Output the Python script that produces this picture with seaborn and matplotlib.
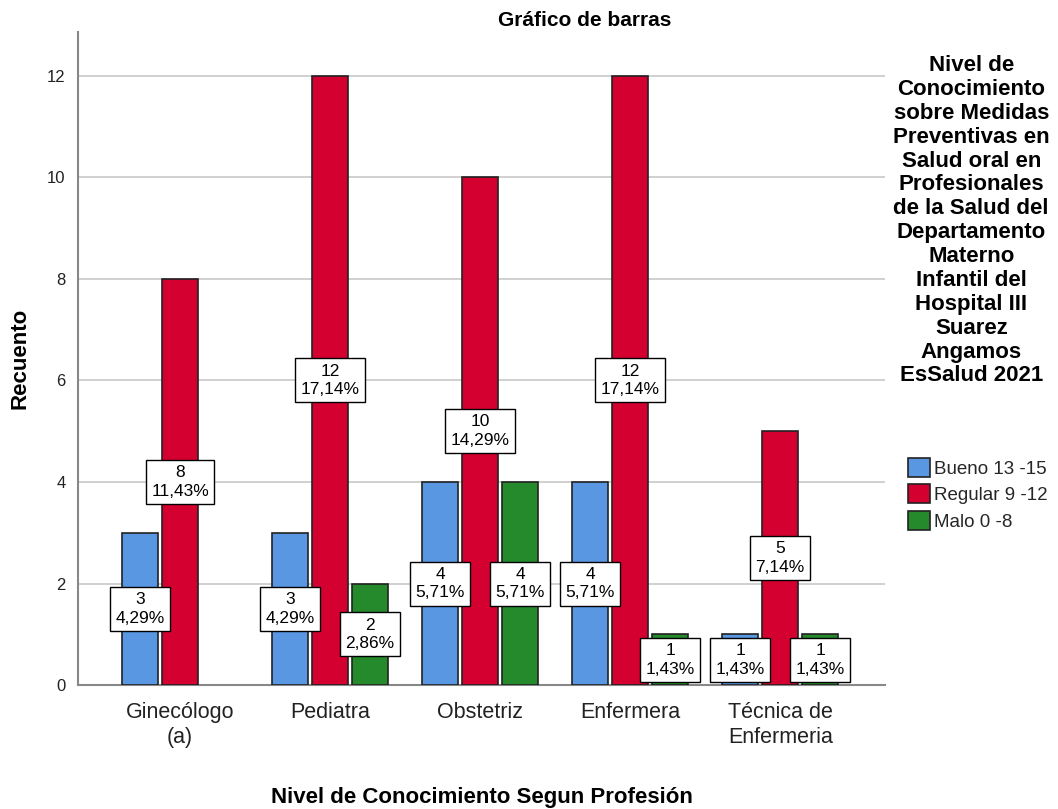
import pandas as pd
import numpy as np
import seaborn as sns
import matplotlib.pyplot as plt
from matplotlib.patches import Patch

# profesiones y niveles de conocimiento
profesiones = ["Ginecólogo\n(a)", "Pediatra", "Obstetriz", "Enfermera", "Técnica de\nEnfermeria"]
niveles = ["Bueno 13 -15", "Regular 9 -12", "Malo 0 -8"]
bueno = [3, 3, 4, 4, 1]
regular = [8, 12, 10, 12, 5]
malo = [0, 2, 4, 1, 1]
colores = ["#5A97E3", "#D4002F", "#248A2B"]

rows = []
for i, p in enumerate(profesiones):
    rows.append((p, niveles[0], bueno[i]))
    rows.append((p, niveles[1], regular[i]))
    rows.append((p, niveles[2], malo[i]))
df = pd.DataFrame(rows, columns=["profesion", "nivel", "recuento"])
total = df["recuento"].sum()

sns.set_style("white")
plt.rcParams["font.family"] = ["Liberation Sans", "DejaVu Sans"]

fig = plt.figure(figsize=(10.58, 8.09), dpi=100)
ax = fig.add_axes([0.0737, 0.153, 0.763, 0.807])

sns.barplot(data=df, x="profesion", y="recuento", hue="nivel", order=profesiones,
            hue_order=niveles, palette=colores, saturation=1, width=0.8, gap=0.1,
            edgecolor="#222222", linewidth=1.2, ax=ax, legend=False, zorder=3)

# etiquetas de recuento y porcentaje en la mitad de cada barra
for cont in ax.containers:
    for bar in cont:
        h = bar.get_height()
        if h <= 0:
            bar.set_visible(False)
            continue
        pct = f"{h / total * 100:.2f}".replace(".", ",")
        ax.text(bar.get_x() + bar.get_width() / 2, h / 2, f"{int(h)}\n{pct}%",
                ha="center", va="center", fontsize=12.5, linespacing=1.3, zorder=5,
                color="black",
                bbox=dict(boxstyle="square,pad=0.3", fc="white", ec="black", lw=1))

ax.set_ylim(0, 12.85)
ax.set_xlim(-0.68, 4.7)
ax.set_yticks([0, 2, 4, 6, 8, 10, 12])
ax.yaxis.grid(True, color="#C8C8C8", lw=1.2, zorder=0)
ax.set_axisbelow(True)
for s in ["top", "right"]:
    ax.spines[s].set_visible(False)
for s in ["left", "bottom"]:
    ax.spines[s].set_color("#888888")
    ax.spines[s].set_linewidth(1.5)
ax.tick_params(axis="y", labelsize=12, colors="#222222", length=0, pad=9)
ax.tick_params(axis="x", labelsize=15.5, colors="#222222", length=0, pad=12)
for t in ax.get_xticklabels():
    t.set_linespacing(1.25)
ax.set_xlabel("Nivel de Conocimiento Segun Profesión", fontsize=16, fontweight="bold",
              color="black", labelpad=28)
ax.set_ylabel("Recuento", fontsize=16, fontweight="bold", color="black", labelpad=12)

fig.text(0.553, 0.975, "Gráfico de barras", ha="center", va="center", fontsize=15,
         fontweight="bold", color="black")

titulo = ("Nivel de\nConocimiento\nsobre Medidas\nPreventivas en\nSalud oral en\n"
          "Profesionales\nde la Salud del\nDepartamento\nMaterno\nInfantil del\n"
          "Hospital III\nSuarez\nAngamos\nEsSalud 2021")
fig.text(0.918, 0.932, titulo, ha="center", va="top", fontsize=16, fontweight="bold",
         color="black", linespacing=1.18)

handles = [Patch(fc=c, ec="#222222", lw=1.2) for c in colores]
fig.legend(handles, niveles, loc="upper left", bbox_to_anchor=(0.842, 0.455),
           frameon=False, handlelength=1.2, handleheight=1.2,
           handletextpad=0.2, labelspacing=0.35, prop={"size": 13.5})

fig.savefig("out.png", dpi=100)
